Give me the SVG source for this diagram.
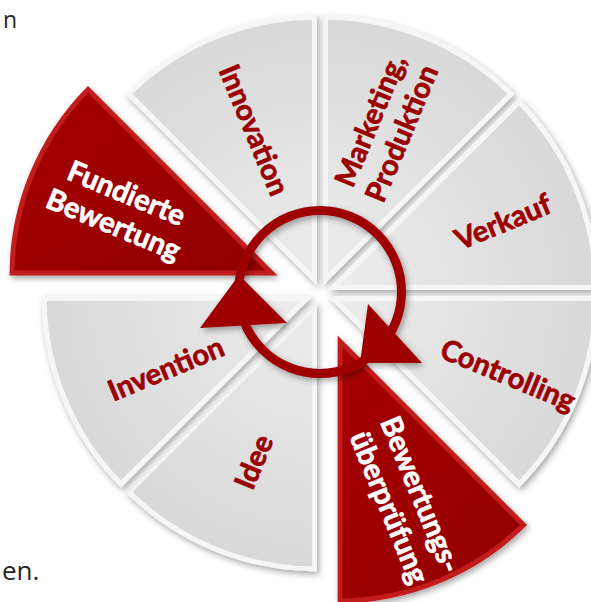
<svg xmlns="http://www.w3.org/2000/svg" width="591" height="602" viewBox="0 0 591 602">
<defs>
<style>
.lbl{font-family:Lato,"Open Sans","Liberation Sans",sans-serif;font-weight:700;font-size:29px;text-anchor:middle;stroke-width:0.7px}
.dark{fill:#9b0000;stroke:#9b0000}
.light{fill:#ffffff;stroke:#ffffff}
.body{font-family:"Open Sans","Liberation Sans",sans-serif;font-size:26px;fill:#262626}
.gbev{fill:#f6f6f6}
.gface{fill:url(#gFace)}
.rbev{fill:#c21a1a}
.rface{fill:url(#rFace)}
.ring{fill:none;stroke:#9e0000;stroke-width:9}
.head{fill:#9e0000}
</style>
<radialGradient id="gFace" gradientUnits="userSpaceOnUse" cx="320" cy="293" r="280"><stop offset="0" stop-color="#eeeeee"/><stop offset="1" stop-color="#d8d8d8"/></radialGradient>
<linearGradient id="rFace" x1="0" y1="0" x2="1" y2="1"><stop offset="0" stop-color="#a60000"/><stop offset="1" stop-color="#920000"/></linearGradient>
<filter id="sh" x="-10%" y="-10%" width="130%" height="130%"><feDropShadow dx="2" dy="3" stdDeviation="3" flood-color="#000" flood-opacity="0.35"/></filter>
</defs>
<rect width="591" height="602" fill="#ffffff"/>
<text class="body" x="3" y="28" style="font-size:23px">n</text>
<text class="body" x="2" y="580">en.</text>

<g id="seg-innovation" filter="url(#sh)">
<path class="gbev" d="M316.94,285.61 L125.31,93.98 A271,271 0 0 1 316.94,14.61 Z"/>
<path class="gface" d="M311.94,273.53 L132.42,94.01 A266,266 0 0 1 311.94,19.66 Z"/>
</g>
<g id="seg-marketing" filter="url(#sh)">
<path class="gbev" d="M323.06,285.61 L323.06,14.61 A271,271 0 0 1 514.69,93.98 Z"/>
<path class="gface" d="M328.06,273.53 L328.06,19.66 A266,266 0 0 1 507.58,94.01 Z"/>
</g>
<g id="seg-verkauf" filter="url(#sh)">
<path class="gbev" d="M327.39,289.94 L519.02,98.31 A271,271 0 0 1 598.39,289.94 Z"/>
<path class="gface" d="M339.47,284.94 L518.99,105.42 A266,266 0 0 1 593.34,284.94 Z"/>
</g>
<g id="seg-controlling" filter="url(#sh)">
<path class="gbev" d="M327.39,296.06 L598.39,296.06 A271,271 0 0 1 519.02,487.69 Z"/>
<path class="gface" d="M339.47,301.06 L593.34,301.06 A266,266 0 0 1 518.99,480.58 Z"/>
</g>
<g id="seg-idee" filter="url(#sh)">
<path class="gbev" d="M316.94,300.39 L316.94,571.39 A271,271 0 0 1 125.31,492.02 Z"/>
<path class="gface" d="M311.94,312.47 L311.94,566.34 A266,266 0 0 1 132.42,491.99 Z"/>
</g>
<g id="seg-invention" filter="url(#sh)">
<path class="gbev" d="M312.61,296.06 L120.98,487.69 A271,271 0 0 1 41.61,296.06 Z"/>
<path class="gface" d="M300.53,301.06 L121.01,480.58 A266,266 0 0 1 46.66,301.06 Z"/>
</g>
<g id="seg-bewertungsueberpruefung" filter="url(#sh)">
<path class="rbev" d="M337.60,335.50 L527.10,525.00 A268,268 0 0 1 337.60,603.50 Z"/>
<path class="rface" d="M342.60,347.58 L519.99,524.97 A263,263 0 0 1 342.60,598.45 Z"/>
</g>
<g id="seg-fundierte" filter="url(#sh)">
<path class="rbev" d="M277.50,275.40 L9.50,275.40 A268,268 0 0 1 88.00,85.90 Z"/>
<path class="rface" d="M265.42,270.40 L14.55,270.40 A263,263 0 0 1 88.03,93.01 Z"/>
</g>

<g id="labels">
<text class="lbl dark" transform="translate(254,130) rotate(67.5)" y="10">Innovation</text>
<text class="lbl dark" transform="translate(386,127) rotate(-67.5)"><tspan x="0" y="-7">Marketing,</tspan><tspan x="0" y="27">Produktion</tspan></text>
<text class="lbl dark" transform="translate(503,222) rotate(-22.5)" y="10">Verkauf</text>
<text class="lbl dark" transform="translate(508,375) rotate(22.5)" y="10">Controlling</text>
<text class="lbl light" transform="translate(405,501) rotate(67.5)"><tspan x="0" y="-7">Bewertungs-</tspan><tspan x="0" y="27">überprüfung</tspan></text>
<text class="lbl dark" transform="translate(254,462) rotate(-67.5)" y="10">Idee</text>
<text class="lbl dark" transform="translate(166,369) rotate(-22.5)" y="10">Invention</text>
<text class="lbl light" transform="translate(120,209) rotate(22.5)"><tspan x="0" y="-7">Fundierte</tspan><tspan x="0" y="27">Bewertung</tspan></text>
</g>

<g id="connectors" filter="url(#sh)">
<circle class="ring" cx="320" cy="292" r="81.5"/>
<polygon class="head" points="239,275 200,328 287,323"/>
<polygon class="head" points="368,304 422,363 360,363"/>
</g>
</svg>
